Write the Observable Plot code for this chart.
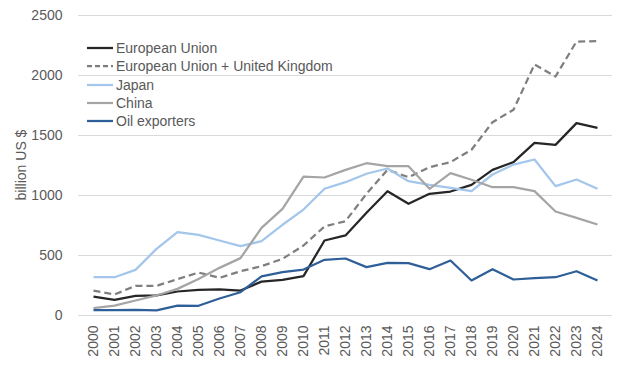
<!DOCTYPE html>
<html>
<head>
<meta charset="utf-8">
<script src="https://cdn.jsdelivr.net/npm/d3@7"></script>
<script src="https://cdn.jsdelivr.net/npm/@observablehq/plot@0.6"></script>
<style>
  html, body { margin: 0; padding: 0; background: #fff; }
  #wrap { position: relative; width: 624px; height: 369px; font-family: "Liberation Sans", Arial, sans-serif; }
  #legend { position: absolute; left: 87px; top: 39px; font-size: 14px; color: #595959; line-height: 18.3px; }
  #legend .row { display: flex; align-items: center; height: 18.3px; white-space: nowrap; }
  #legend svg { margin-right: 3px; }
  #ylabel { position: absolute; left: 21px; top: 165px; transform: translate(-50%, -50%) rotate(-90deg); font-size: 14px; color: #595959; white-space: nowrap; line-height: 16px; }
</style>
</head>
<body>
<div id="wrap"><div id="legend"></div><div id="ylabel"></div></div>
<script>
const years = ["2000","2001","2002","2003","2004","2005","2006","2007","2008","2009","2010","2011","2012","2013","2014","2015","2016","2017","2018","2019","2020","2021","2022","2023","2024"];
const euValues = [158,131,164,167,200,214,217,208,282,297,328,625,667,856,1036,931,1014,1033,1089,1214,1278,1439,1422,1603,1564];
const euUkValues = [208,175,247,247,303,358,314,369,411,472,583,742,786,1014,1214,1153,1236,1278,1381,1611,1714,2092,1992,2283,2286];
const japanValues = [319,319,380,555,694,672,625,578,619,756,883,1056,1111,1181,1225,1119,1089,1064,1036,1175,1258,1300,1078,1133,1056];
const chinaValues = [61,83,125,167,222,305,397,478,730,889,1158,1150,1214,1269,1244,1244,1056,1186,1131,1069,1069,1036,867,814,758];
const oilValues = [44,44,47,43,83,81,142,194,326,361,383,464,475,403,439,437,386,458,292,386,300,311,319,369,292];
const seriesNames = ["European Union","European Union + United Kingdom","Japan","China","Oil exporters"];
const yTicks = [0,500,1000,1500,2000,2500];
const yLabel = "billion US $";

const styles = [
  {stroke: "#262626", dash: null},
  {stroke: "#7f7f7f", dash: "7,4"},
  {stroke: "#a3c6ea", dash: null},
  {stroke: "#a5a5a5", dash: null},
  {stroke: "#2f5f98", dash: null}
];
const allValues = [euValues, euUkValues, japanValues, chinaValues, oilValues];

const lineMarks = allValues.map((vals, k) => Plot.line(vals, {
  x: (d, i) => years[i],
  y: d => d,
  stroke: styles[k].stroke,
  strokeWidth: 2.25,
  strokeDasharray: styles[k].dash,
  strokeLinejoin: "round",
  strokeLinecap: "butt"
}));

const chart = Plot.plot({
  width: 624,
  height: 369,
  marginLeft: 78,
  marginRight: 12,
  marginTop: 15,
  marginBottom: 54,
  style: {fontFamily: "'Liberation Sans', Arial, sans-serif", fontSize: "14px", color: "#595959", background: "#fff"},
  x: {type: "point", domain: years, padding: 0.5},
  y: {domain: [0, 2500]},
  marks: [
    Plot.gridY(yTicks, {stroke: "#d9d9d9", strokeOpacity: 1, strokeWidth: 1}),
    Plot.axisY(yTicks, {tickSize: 0, tickPadding: 16, tickFormat: d => String(d), label: null, fill: "#595959", fontSize: 14}),
    Plot.axisX(years, {tickSize: 0, tickPadding: 10, tickRotate: -90, label: null, fill: "#595959", fontSize: 14}),
    ...lineMarks
  ]
});
document.getElementById("wrap").prepend(chart);
document.getElementById("ylabel").textContent = yLabel;

const legend = document.getElementById("legend");
seriesNames.forEach((name, k) => {
  const row = document.createElement("div");
  row.className = "row";
  row.innerHTML = `<svg width="26" height="4"><line x1="0" x2="26" y1="2" y2="2" stroke="${styles[k].stroke}" stroke-width="2.25" ${styles[k].dash ? `stroke-dasharray="5,3"` : ""}/></svg><span>${name}</span>`;
  legend.appendChild(row);
});
</script>
</body>
</html>
